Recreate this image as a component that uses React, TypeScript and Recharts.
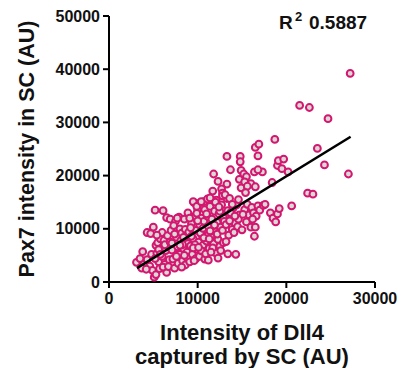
import { ScatterChart, Scatter, XAxis, YAxis, Label } from "recharts";

// [Dll4 intensity, Pax7 intensity] pairs
const lowCells: [number, number][] = [
  [3100, 3700], [3800, 5700], [3900, 3300], [3700, 2600], [4300, 4200], [4300, 9300],
  [4700, 9100], [4800, 5200], [4600, 3000], [4900, 2200], [3500, 4400], [4200, 2400],
  [5000, 10300], [5200, 13500], [6100, 13400], [5100, 900], [5300, 1400], [5300, 6900],
  [5400, 5400], [5500, 7400], [5600, 3800], [5700, 2500], [5800, 8100], [5900, 6300],
  [6000, 4800], [6000, 9300], [6200, 7800], [6300, 3300], [6400, 5900], [6500, 1800],
  [6500, 12100], [6600, 8700], [6700, 6700], [6800, 4200], [6900, 11800], [5200, 4400],
  [5600, 6100], [6100, 2800], [6700, 2900], [5800, 5200], [6300, 7000], [6900, 7500],
  [5400, 8800],
];

const midCells: [number, number][] = [
  [7000, 9700], [7100, 7300], [7200, 4300], [7300, 5900], [7400, 2600], [7500, 11400],
  [7600, 8400], [7700, 6600], [7800, 3500], [7900, 12200], [8000, 10000], [8000, 5200],
  [8100, 7800], [8200, 9200], [8300, 4000], [8400, 6300], [8500, 11800], [8600, 3200],
  [8700, 8600], [8800, 5600], [8900, 13000], [8900, 7200], [7300, 10600], [7600, 4800],
  [8200, 2800], [8600, 9900], [7700, 12000], [8300, 7000], [8800, 4600], [7100, 6000],
  [8500, 5000], [8400, 8400], [8000, 6900], [7400, 9000],
  [9000, 9400], [9100, 3800], [9200, 6800], [9300, 11000], [9400, 5200], [9500, 8100],
  [9600, 14900], [9700, 12400], [9800, 4400], [9800, 9700], [9900, 6200], [10000, 13600],
  [10100, 7500], [10200, 10800], [10200, 4800], [10300, 14900], [10400, 12000], [10500, 5800],
  [10500, 8800], [10600, 6900], [10700, 11400], [10800, 13600], [10800, 4300], [10900, 9900],
  [11000, 7700], [9300, 8600], [9600, 4000], [10000, 11500], [10400, 5900], [10700, 15100],
  [9700, 7000], [10300, 9200], [10900, 5300], [9200, 10200], [9900, 12900], [10600, 10100],
  [9500, 6400], [10100, 6500], [10700, 8300], [9100, 12000], [9500, 15100], [9900, 14200],
];

const upperCells: [number, number][] = [
  [11100, 12400], [11200, 4100], [11200, 10500], [11300, 6300], [11400, 14200], [11500, 8500],
  [11600, 11800], [11700, 17100], [11800, 20300], [11800, 7200], [11900, 13300], [12000, 9400],
  [12100, 5400], [12100, 15400], [12200, 11200], [12300, 18900], [12300, 8000], [12400, 12800],
  [12500, 6700], [12600, 10300], [12700, 14500], [12700, 17500], [12800, 16700], [12900, 7400],
  [12900, 12100], [11400, 9600], [11700, 6400], [12000, 15000], [12500, 13300], [11100, 15600],
  [12200, 9000], [12600, 5900], [11000, 12800], [11300, 8100], [11900, 10700], [12400, 14100],
  [12800, 9700], [13000, 11400], [11500, 5600], [12300, 4500], [13300, 18400], [12800, 16200],
  [13300, 15700], [11400, 15800], [10400, 15100],
  [13100, 16400], [13200, 10800], [13300, 23600], [13400, 5300], [13400, 13400], [13500, 8800],
  [13600, 15700], [13700, 21100], [13800, 12000], [13900, 9900], [14000, 13900], [14200, 11100],
  [14300, 5200], [14400, 14500], [14500, 10400], [14600, 15500], [14700, 12600], [14800, 23600],
  [14800, 22600], [14900, 17700], [15000, 9800], [15000, 19500], [13200, 7600], [13600, 11500],
  [14100, 9300], [14600, 11800], [13900, 14600], [13700, 13000], [14200, 12400], [14900, 21000],
  [14700, 19300],
];

const highCells: [number, number][] = [
  [15200, 20300], [15500, 19800], [15300, 18800], [16000, 18500], [15600, 18000], [16500, 17900],
  [15300, 13600], [15500, 11300], [15600, 14600], [15800, 12600], [16000, 10300], [16100, 14000],
  [16300, 13000], [16400, 8600], [16400, 20700], [16500, 25300], [16500, 10300], [16600, 12400],
  [16800, 23700], [16900, 25900], [16800, 14300], [17300, 20700], [17000, 13500], [15400, 16800],
  [16200, 11800], [15100, 12700], [16800, 21100],
  [17400, 14400], [17600, 14600], [18200, 13000], [18400, 18700], [18500, 12000], [18700, 26800],
  [18800, 11300], [19000, 21900], [19000, 12800], [19200, 13800], [19100, 22800], [19700, 23100],
  [19500, 21300], [20200, 20700], [20600, 14300],
];

const outlierCells: [number, number][] = [
  [21500, 33200], [22600, 32800], [24700, 30700], [23500, 25100], [24300, 22000],
  [22400, 16700], [23000, 16500], [27200, 39200], [27000, 20300],
];

// linear fit end points
const fitX = [3150, 27250];
const fitY = [2600, 27300];

const xTicks = [0, 10000, 20000, 30000];
const yTicks = [0, 10000, 20000, 30000, 40000, 50000];

const points = [...lowCells, ...midCells, ...upperCells, ...highCells, ...outlierCells].map(
  ([x, y]) => ({ x, y })
);
const fitLine = fitX.map((x, i) => ({ x, y: fitY[i] }));

const FONT = "'Liberation Sans', Arial, sans-serif";
const INK = "#111";

const Dot = (props: any) => (
  <circle
    cx={props.cx}
    cy={props.cy}
    r={3.4}
    fill="#d9d9d9"
    stroke="#d4166f"
    strokeWidth={2}
  />
);

const tickStyle = { fill: INK, fontSize: 16, fontWeight: 700, fontFamily: FONT };

export default function App() {
  return (
    <div style={{ position: "absolute", left: 0, top: 0, width: 412, height: 368, background: "#fff" }}>
      <ScatterChart
        width={412}
        height={368}
        margin={{ top: 16, right: 37, bottom: 0, left: 0 }}
      >
        <XAxis
          type="number"
          dataKey="x"
          domain={[0, 30000]}
          ticks={xTicks}
          interval={0}
          height={86}
          tickSize={6}
          tickMargin={5}
          tick={tickStyle}
          axisLine={{ stroke: "#000", strokeWidth: 2 }}
          tickLine={{ stroke: "#000", strokeWidth: 2 }}
        >
          <Label
            content={(p: any) => {
              const vb = p.viewBox;
              const cx = vb.x + vb.width / 2;
              return (
                <g fontFamily={FONT} fontSize={22} fontWeight={700} fill={INK} textAnchor="middle">
                  <text x={cx} y={vb.y + 50} dominantBaseline="central">Intensity of Dll4</text>
                  <text x={cx} y={vb.y + 74} dominantBaseline="central">captured by SC (AU)</text>
                </g>
              );
            }}
          />
        </XAxis>
        <YAxis
          type="number"
          dataKey="y"
          domain={[0, 50000]}
          ticks={yTicks}
          interval={0}
          width={109}
          tickSize={6}
          tickMargin={3}
          tick={tickStyle}
          axisLine={{ stroke: "#000", strokeWidth: 2 }}
          tickLine={{ stroke: "#000", strokeWidth: 2 }}
        >
          <Label
            content={(p: any) => {
              const vb = p.viewBox;
              const cx = vb.x + 27;
              const cy = vb.y + vb.height / 2;
              return (
                <text
                  x={cx}
                  y={cy}
                  transform={`rotate(-90 ${cx} ${cy})`}
                  textAnchor="middle"
                  dominantBaseline="central"
                  fontFamily={FONT}
                  fontSize={21.5}
                  fontWeight={700}
                  fill={INK}
                >
                  Pax7 intensity in SC (AU)
                </text>
              );
            }}
          />
        </YAxis>
        <Scatter data={points} shape={Dot} isAnimationActive={false} />
        <Scatter
          data={fitLine}
          line={{ stroke: "#000", strokeWidth: 2.5 }}
          shape={() => <g />}
          isAnimationActive={false}
        />
      </ScatterChart>
      <svg
        width={412}
        height={368}
        style={{ position: "absolute", left: 0, top: 0, pointerEvents: "none" }}
      >
        <g fontFamily={FONT} fontWeight={700} fill={INK}>
          <text x={279} y={29} fontSize={19}>R</text>
          <text x={295} y={21} fontSize={13}>2</text>
          <text x={309} y={29} fontSize={19}>0.5887</text>
        </g>
      </svg>
    </div>
  );
}
